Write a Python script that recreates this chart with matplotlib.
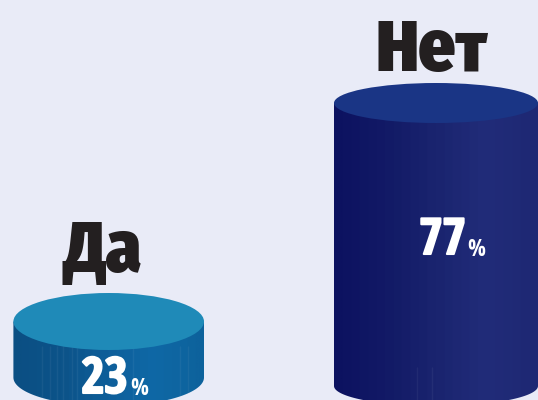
import numpy as np
import matplotlib.pyplot as plt
import matplotlib.patheffects as pe
from matplotlib.colors import LinearSegmentedColormap
from matplotlib.patches import Ellipse, PathPatch
from matplotlib.path import Path

# ======================== DATA ============================
categories = ["Да", "Нет"]
percent_labels = ["23", "77"]
# drawn heights (not quite proportional to the percents)
drawn_heights = [84.5, 303]

# ======================== STYLE ===========================
BG = "#e9ebf7"
FONT = ["Fira Sans Condensed", "Roboto Condensed", "Open Sans", "DejaVu Sans"]
NUM_FONT = ["Open Sans Condensed", "Roboto Condensed", "Open Sans", "DejaVu Sans"]
X_CENTER = [108.7, 436]
RX = [95.3, 102]
RY = [28.5, 20]
TOP_COLORS = ["#1f8ab8", "#1a3585"]
SIDE_COLORS = [["#0b4f83", "#0c5389", "#0e5f9a", "#0f68a6", "#0d629c"],
               ["#0c1260", "#121a66", "#1a246f", "#212c79", "#1e2874"]]
LABEL_POS = [(102, 272), (432, 71)]
NUM_POS = [(104.5, 393), (442.5, 254)]
PCT_POS = [(139.5, 395), (476.5, 256)]
# faint seams on the cylinder sides: x positions and how far up they run
SEAM_X = [[42, 50, 57, 63, 72, 77, 133, 180, 188], [417, 432]]
SEAM_TOP = [60, 39]


def draw_cylinder(ax, xc, rx, ry, height, side_colors, top_color, seams, seam_top):
    theta = np.linspace(np.pi, 2 * np.pi, 80)
    x_low = xc + rx * np.cos(theta)
    y_low = ry + ry * np.sin(theta)
    verts = [(xc - rx, height)] + list(zip(x_low, y_low)) + [(xc + rx, height), (xc - rx, height)]
    codes = [Path.MOVETO] + [Path.LINETO] * (len(verts) - 2) + [Path.CLOSEPOLY]
    clip = PathPatch(Path(verts, codes), facecolor="none", edgecolor="none", transform=ax.transData)
    ax.add_patch(clip)

    cmap = LinearSegmentedColormap.from_list("side", side_colors, N=24)
    grad = np.linspace(0, 1, 256).reshape(1, -1)
    im = ax.imshow(grad, cmap=cmap, extent=(xc - rx, xc + rx, 0, height), aspect="auto", zorder=2, origin="lower")
    im.set_clip_path(clip)

    seam_lines = ax.vlines(seams, 0, seam_top, color="white", alpha=0.05, lw=1, zorder=2.5)
    seam_lines.set_clip_path(clip)

    top = Ellipse((xc, height), 2 * rx, 2 * ry, facecolor=top_color, edgecolor="none", zorder=3)
    ax.add_patch(top)


fig = plt.figure(figsize=(5.38, 4.0), dpi=100, facecolor=BG)
ax = fig.add_axes([0, 0, 1, 1])
ax.set_facecolor(BG)

for i in range(len(categories)):
    draw_cylinder(ax, X_CENTER[i], RX[i], RY[i], drawn_heights[i], SIDE_COLORS[i], TOP_COLORS[i],
                  SEAM_X[i], SEAM_TOP[i])

ax.set_xlim(0, 538)
ax.set_ylim(6, 406)
ax.axis("off")

# heavier digits than the condensed font has
thick = [pe.withStroke(linewidth=1.5, foreground="white")]

# text positions below are picture pixels
to_y = lambda py: 406 - py
for i, name in enumerate(categories):
    ax.text(LABEL_POS[i][0], to_y(LABEL_POS[i][1]), name, family=FONT, fontsize=52, fontweight=900,
            color="#231f20", ha="center", va="baseline", zorder=5)
    ax.text(NUM_POS[i][0], to_y(NUM_POS[i][1]), percent_labels[i], family=NUM_FONT, fontsize=36, fontweight="bold",
            color="white", ha="center", va="baseline", zorder=5, path_effects=thick)
    ax.text(PCT_POS[i][0], to_y(PCT_POS[i][1]), "%", family=NUM_FONT, fontsize=17, fontweight="bold",
            color="white", ha="center", va="baseline", zorder=5)

fig.savefig("out.png", dpi=100, facecolor=BG)
